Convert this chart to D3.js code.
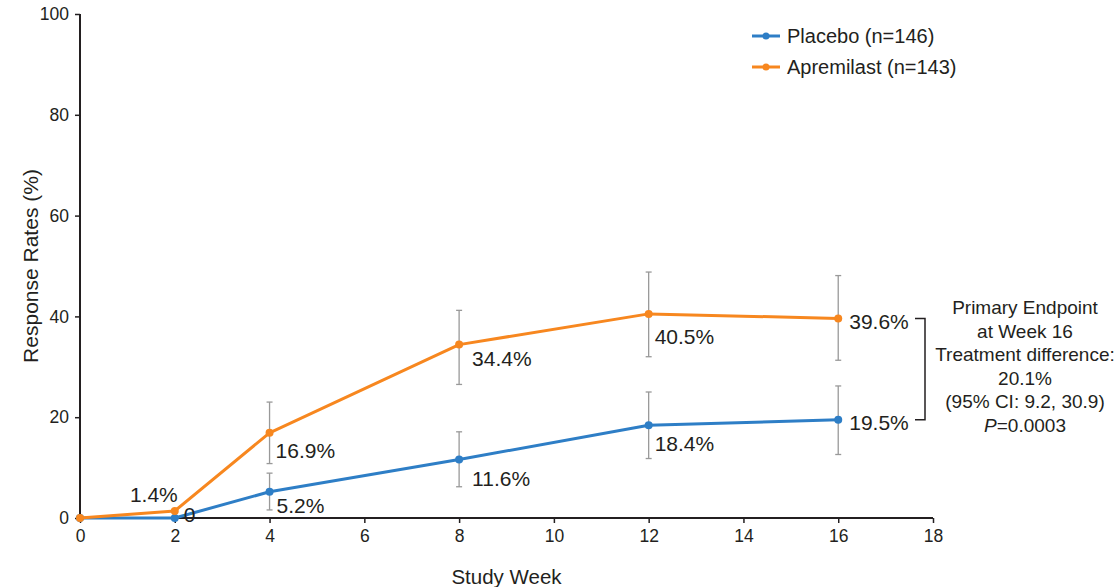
<!DOCTYPE html>
<html>
<head>
<meta charset="utf-8">
<script src="https://cdn.jsdelivr.net/npm/d3@7"></script>
<style>
  body { margin: 0; background: #fff; }
  text { font-family: "Liberation Sans", Arial, Helvetica, sans-serif; fill: #231f20; }
</style>
</head>
<body>
<div id="my_dataviz"></div>
<script>
// data
const weeks = [0, 2, 4, 8, 12, 16];
const placebo = [0, 0, 5.2, 11.6, 18.4, 19.5];
const placeboLow = [null, null, 1.6, 6.2, 11.8, 12.6];
const placeboHigh = [null, null, 8.9, 17.1, 25.0, 26.2];
const apremilast = [0, 1.4, 16.9, 34.4, 40.5, 39.6];
const apremilastLow = [null, null, 10.8, 26.5, 32.0, 31.3];
const apremilastHigh = [null, null, 23.0, 41.2, 48.8, 48.1];
const placeboLabels = [null, "0", "5.2%", "11.6%", "18.4%", "19.5%"];
const apremilastLabels = [null, "1.4%", "16.9%", "34.4%", "40.5%", "39.6%"];
const xTicks = [0, 2, 4, 6, 8, 10, 12, 14, 16, 18];
const yTicks = [0, 20, 40, 60, 80, 100];
const seriesNames = ["Placebo (n=146)", "Apremilast (n=143)"];
const noteLines = ["Primary Endpoint", "at Week 16", "Treatment difference:", "20.1%", "(95% CI: 9.2, 30.9)", "=0.0003"];

const width = 1119, height = 587;
const blue = "#2e7ec6", orange = "#f7871f", axisColor = "#231f20", barColor = "#999";

const svg = d3.select("#my_dataviz")
  .append("svg")
  .attr("width", width)
  .attr("height", height);

const x = d3.scaleLinear().domain([0, 18]).range([80, 933]);
const y = d3.scaleLinear().domain([0, 100]).range([518, 14]);

// axes
const yAxis = svg.append("g")
  .attr("transform", `translate(${x(0)},0)`)
  .call(d3.axisLeft(y).tickValues(yTicks).tickSize(5).tickPadding(6));
const xAxis = svg.append("g")
  .attr("transform", `translate(0,${y(0)})`)
  .call(d3.axisBottom(x).tickValues(xTicks).tickSize(5).tickPadding(7));

[yAxis, xAxis].forEach(function(a) {
  a.select(".domain").attr("stroke", axisColor).attr("stroke-width", 2);
  a.selectAll(".tick line").attr("stroke", axisColor).attr("stroke-width", 1.5);
  a.selectAll(".tick text").attr("font-size", 17.5).attr("font-family", null).attr("fill", axisColor);
});
// domain without the outer ticks
yAxis.select(".domain").attr("d", `M0,${y(100)}V${y(0)}`);
xAxis.select(".domain").attr("d", `M${x(0)},0H${x(18)}`);

svg.append("text")
  .attr("transform", `translate(30,${(y(0) + y(100)) / 2}) rotate(-90)`)
  .attr("text-anchor", "middle")
  .attr("dominant-baseline", "central")
  .attr("font-size", 21)
  .text("Response Rates (%)");

svg.append("text")
  .attr("x", (x(0) + x(18)) / 2)
  .attr("y", 576)
  .attr("text-anchor", "middle")
  .attr("dominant-baseline", "central")
  .attr("font-size", 20.5)
  .text("Study Week");

// error bars
function errorBars(lo, hi) {
  const idx = weeks.map(function(w, i) { return i; }).filter(function(i) { return lo[i] !== null; });
  const g = svg.append("g").attr("stroke", barColor).attr("stroke-width", 1.3);
  idx.forEach(function(i) {
    const cx = x(weeks[i]);
    g.append("line").attr("x1", cx).attr("x2", cx).attr("y1", y(lo[i])).attr("y2", y(hi[i]));
    g.append("line").attr("x1", cx - 3).attr("x2", cx + 3).attr("y1", y(lo[i])).attr("y2", y(lo[i]));
    g.append("line").attr("x1", cx - 3).attr("x2", cx + 3).attr("y1", y(hi[i])).attr("y2", y(hi[i]));
  });
}
errorBars(apremilastLow, apremilastHigh);
errorBars(placeboLow, placeboHigh);

// lines + dots
function series(values, color) {
  const pts = weeks.map(function(w, i) { return [w, values[i]]; });
  svg.append("path")
    .datum(pts)
    .attr("fill", "none")
    .attr("stroke", color)
    .attr("stroke-width", 3)
    .attr("stroke-linejoin", "round")
    .attr("d", d3.line()
      .x(function(d) { return x(d[0]) })
      .y(function(d) { return y(d[1]) })
    );
  svg.append("g").selectAll("circle")
    .data(pts)
    .join("circle")
    .attr("cx", function(d) { return x(d[0]) })
    .attr("cy", function(d) { return y(d[1]) })
    .attr("r", 4)
    .attr("fill", color);
}
series(placebo, blue);
series(apremilast, orange);

// value labels (offsets from each point)
const placeboOffsets = [null, [9, -4], [7, 14], [13, 19], [6, 18], [11, 3]];
const apremilastOffsets = [null, [3, -16], [6, 18], [13, 14], [6, 23], [11, 3]];
function valueLabels(values, labels, offsets) {
  weeks.forEach(function(w, i) {
    if (labels[i] === null) return;
    const right = labels[i] === "1.4%";
    svg.append("text")
      .attr("x", x(w) + offsets[i][0])
      .attr("y", y(values[i]) + offsets[i][1])
      .attr("text-anchor", right ? "end" : "start")
      .attr("dominant-baseline", "central")
      .attr("font-size", 21)
      .text(labels[i]);
  });
}
valueLabels(placebo, placeboLabels, placeboOffsets);
valueLabels(apremilast, apremilastLabels, apremilastOffsets);

// bracket between week 16 values
const last = weeks.length - 1;
svg.append("path")
  .attr("fill", "none")
  .attr("stroke", axisColor)
  .attr("stroke-width", 1.5)
  .attr("d", `M915,${y(apremilast[last])}H925V${y(placebo[last])}H915`);

// annotation
const note = svg.append("text")
  .attr("x", 1025)
  .attr("text-anchor", "middle")
  .attr("font-size", 19);
noteLines.forEach(function(t, i) {
  const line = note.append("tspan")
    .attr("x", 1025)
    .attr("y", 314 + i * 23.5);
  if (i === noteLines.length - 1) {
    line.append("tspan").attr("font-style", "italic").text("P");
    line.append("tspan").text(t);
  } else {
    line.text(t);
  }
});

// legend
const legend = svg.append("g");
[blue, orange].forEach(function(c, i) {
  const ly = 36 + i * 31;
  legend.append("line").attr("x1", 752).attr("x2", 780).attr("y1", ly).attr("y2", ly)
    .attr("stroke", c).attr("stroke-width", 3);
  legend.append("circle").attr("cx", 766).attr("cy", ly).attr("r", 3.5).attr("fill", c);
  legend.append("text")
    .attr("x", 787)
    .attr("y", ly)
    .attr("dominant-baseline", "central")
    .attr("font-size", 20)
    .text(seriesNames[i]);
});
</script>
</body>
</html>
